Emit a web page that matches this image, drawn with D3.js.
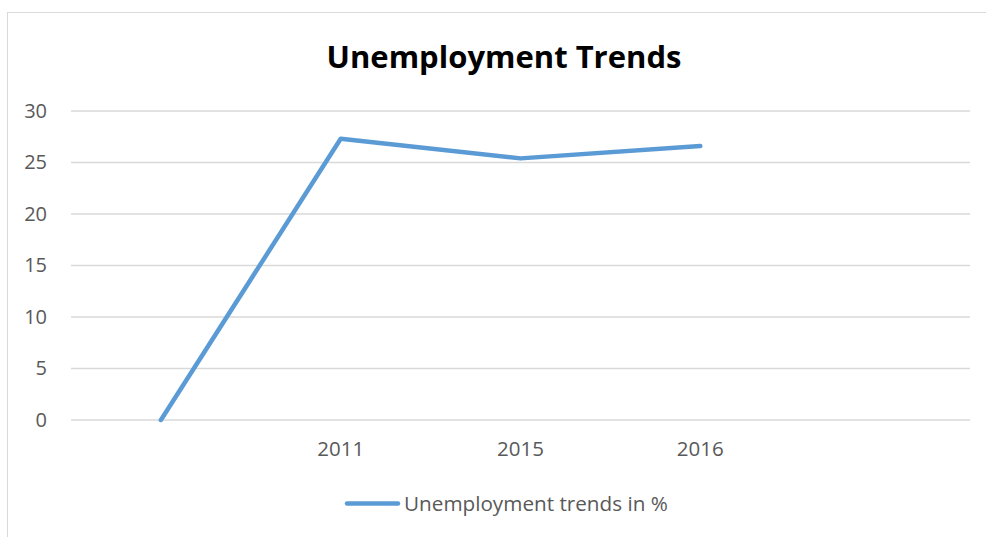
<!DOCTYPE html>
<html>
<head>
<meta charset="utf-8">
<script src="https://cdn.jsdelivr.net/npm/d3@7"></script>
<style>
  body { margin: 0; background: #fff; }
  text { font-family: "Open Sans", sans-serif; }
</style>
</head>
<body>
<div id="chart"></div>
<script>
const categories = ["", "2011", "2015", "2016", " "]
const values = [0, 27.3, 25.4, 26.6, null]
const yTicks = [0, 5, 10, 15, 20, 25, 30]
const seriesName = "Unemployment trends in %"
const title = "Unemployment Trends"

const width = 986
const height = 537
const margin = {left: 71, right: 16, top: 111, bottom: 117}

const svg = d3.select("#chart").append("svg")
    .attr("width", width)
    .attr("height", height)

// chart frame
svg.append("rect")
    .attr("x", 7.5).attr("y", 12.5)
    .attr("width", width + 10).attr("height", height)
    .attr("fill", "#fff")
    .attr("stroke", "#d9d9d9")

const xScale = d3.scaleBand()
    .domain(categories)
    .range([margin.left, width - margin.right])
const yScale = d3.scaleLinear()
    .domain([0, 30])
    .range([height - margin.bottom, margin.top])

// gridlines
svg.append("g")
    .selectAll("line")
    .data(yTicks)
    .enter()
    .append("line")
    .attr("x1", margin.left)
    .attr("x2", width - margin.right)
    .attr("y1", d => yScale(d))
    .attr("y2", d => yScale(d))
    .attr("stroke", "#d9d9d9")
    .attr("stroke-width", 1.3)

// y axis labels
const yAxis = svg.append("g")
    .attr("transform", `translate(${margin.left - 24},0)`)
    .call(d3.axisLeft(yScale).tickValues(yTicks).tickSize(0).tickPadding(0))
yAxis.select(".domain").remove()
yAxis.selectAll("text")
    .attr("font-size", 20)
    .attr("fill", "#595959")
    .style("font-family", "'Open Sans', sans-serif")

// x axis labels
const xAxis = svg.append("g")
    .attr("transform", `translate(0,${yScale(0) + 21})`)
    .call(d3.axisBottom(xScale).tickSize(0).tickPadding(0))
xAxis.select(".domain").remove()
xAxis.selectAll("text")
    .attr("font-size", 20.5)
    .attr("fill", "#595959")
    .attr("dy", "0.71em")
    .style("font-family", "'Open Sans', sans-serif")

// line
const line = d3.line()
    .defined(d => d.v !== null)
    .x(d => xScale(d.c) + xScale.bandwidth() / 2)
    .y(d => yScale(d.v))
svg.append("path")
    .datum(categories.map((c, i) => ({c: c, v: values[i]})))
    .attr("d", line)
    .attr("fill", "none")
    .attr("stroke", "#5b9bd5")
    .attr("stroke-width", 4.5)
    .attr("stroke-linecap", "round")
    .attr("stroke-linejoin", "round")

// title
svg.append("text")
    .attr("x", 504)
    .attr("y", 68)
    .attr("text-anchor", "middle")
    .attr("font-size", 31)
    .attr("font-weight", "bold")
    .attr("fill", "#000")
    .text(title)

// legend
svg.append("line")
    .attr("x1", 347).attr("x2", 398)
    .attr("y1", 503.5).attr("y2", 503.5)
    .attr("stroke", "#5b9bd5")
    .attr("stroke-width", 4.5)
    .attr("stroke-linecap", "round")
svg.append("text")
    .attr("x", 404)
    .attr("y", 511)
    .attr("font-size", 20.7)
    .attr("fill", "#595959")
    .text(seriesName)
</script>
</body>
</html>
